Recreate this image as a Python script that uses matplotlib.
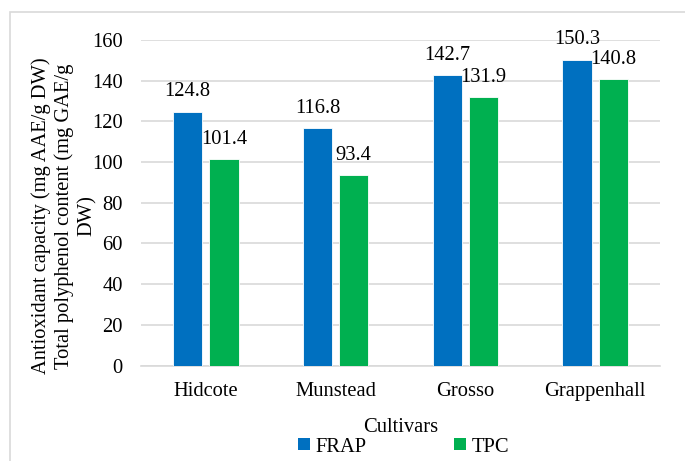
import matplotlib
matplotlib.use("Agg")
import matplotlib.pyplot as plt
from matplotlib.patches import Patch, Rectangle
import numpy as np

cultivars = ["Hidcote", "Munstead", "Grosso", "Grappenhall"]
frap = [124.8, 116.8, 142.7, 150.3]
tpc = [101.4, 93.4, 131.9, 140.8]
yticks = [0, 20, 40, 60, 80, 100, 120, 140, 160]
ylabel_lines = ["Antioxidant capacity (mg AAE/g DW)",
                "Total polyphenol content (mg GAE/g",
                "DW)"]

BLUE = "#0070C0"
GREEN = "#00B050"
GRID = "#D9D9D9"

plt.rcParams["font.family"] = ["Liberation Serif", "DejaVu Serif"]
FS = 14.8

fig = plt.figure(figsize=(6.85, 4.61), dpi=100)
ax = fig.add_axes([141 / 685, 1 - 365.5 / 461, (660 - 141) / 685, (365.5 - 40) / 461])

# chart-area outline
fig.patches.append(Rectangle((10 / 685, -0.1), 1.2, (461 - 12) / 461 + 0.1,
                             transform=fig.transFigure, fill=False,
                             edgecolor=GRID, linewidth=1.2))

x = np.arange(len(cultivars))
w = 0.225
off = 0.14
b1 = ax.bar(x - off, frap, w, color=BLUE, edgecolor="white", linewidth=0.6, zorder=3)
b2 = ax.bar(x + off, tpc, w, color=GREEN, edgecolor="white", linewidth=0.6, zorder=3)

for bars, vals in ((b1, frap), (b2, tpc)):
    for rect, v in zip(bars, vals):
        ax.annotate(f"{v:.1f}", (rect.get_x() + rect.get_width() / 2, v),
                    xytext=(0, 11), textcoords="offset points",
                    ha="center", va="baseline", fontsize=FS, color="black", zorder=4)

ax.set_xlim(-0.5, len(cultivars) - 0.5)
ax.set_ylim(0, 160)
ax.set_yticks(yticks)
ax.set_xticks(x)
ax.set_xticklabels(cultivars)
ax.tick_params(axis="both", length=0, labelsize=FS)
ax.tick_params(axis="y", pad=13)
ax.tick_params(axis="x", pad=12)
ax.yaxis.grid(True, color=GRID, linewidth=1.2, zorder=0)
ax.set_axisbelow(True)
for s in ("top", "right", "left"):
    ax.spines[s].set_visible(False)
ax.spines["bottom"].set_color(GRID)
ax.spines["bottom"].set_linewidth(1.2)

ax.set_xlabel("Cultivars", fontsize=FS, labelpad=12)

# wrapped, rotated y-axis title: one text per line
for i, line in enumerate(ylabel_lines):
    fig.text((41 + 23 * i) / 685, 1 - 216 / 461, line, rotation=90,
             ha="center", va="center", fontsize=FS)

handles = [Patch(facecolor=BLUE, edgecolor="none"), Patch(facecolor=GREEN, edgecolor="none")]
fig.legend(handles, ["FRAP", "TPC"], loc="center", bbox_to_anchor=(404 / 685, 1 - 447 / 461),
           ncol=2, frameon=False, fontsize=FS, handlelength=0.55, handleheight=0.55,
           handletextpad=0.3, columnspacing=4.25, borderpad=0)

fig.savefig("out.png", dpi=100)
